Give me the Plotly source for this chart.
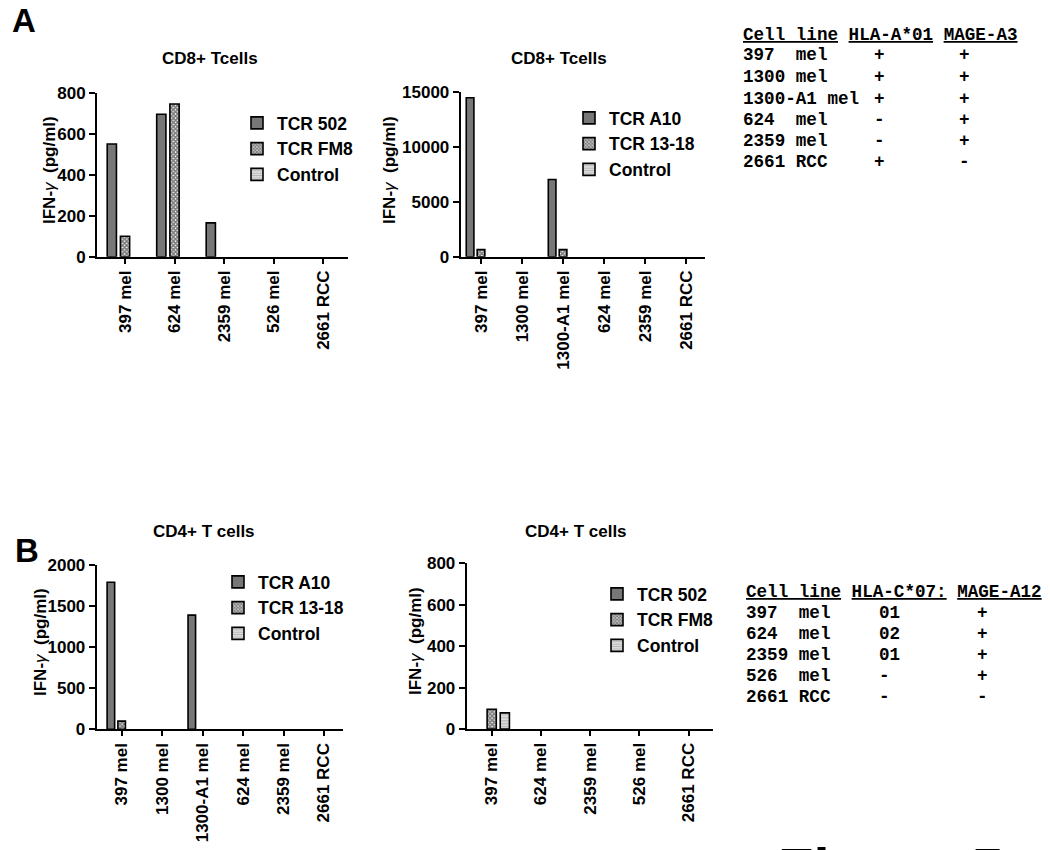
import plotly.graph_objects as go

W, H = 1050, 850

# ---------------- data ----------------
a1_cats = ["397 mel", "624 mel", "2359 mel", "526 mel", "2661 RCC"]
a1_names = ["TCR 502", "TCR FM8", "Control"]
a1_tcr502 = [550, 695, 165, 0, 0]
a1_fm8 = [100, 745, 0, 0, 0]
a1_ctrl = [0, 0, 0, 0, 0]

a2_cats = ["397 mel", "1300 mel", "1300-A1 mel", "624 mel", "2359 mel", "2661 RCC"]
a2_names = ["TCR A10", "TCR 13-18", "Control"]
a2_a10 = [14500, 0, 7050, 0, 0, 0]
a2_1318 = [650, 0, 650, 0, 0, 0]
a2_ctrl = [0, 0, 0, 0, 0, 0]

b1_cats = ["397 mel", "1300 mel", "1300-A1 mel", "624 mel", "2359 mel", "2661 RCC"]
b1_names = ["TCR A10", "TCR 13-18", "Control"]
b1_a10 = [1790, 0, 1390, 0, 0, 0]
b1_1318 = [100, 0, 0, 0, 0, 0]
b1_ctrl = [0, 0, 0, 0, 0, 0]

b2_cats = ["397 mel", "624 mel", "2359 mel", "526 mel", "2661 RCC"]
b2_names = ["TCR 502", "TCR FM8", "Control"]
b2_tcr502 = [0, 0, 0, 0, 0]
b2_fm8 = [95, 0, 0, 0, 0]
b2_ctrl = [78, 0, 0, 0, 0]

tableA_header = ["Cell line", "HLA-A*01", "MAGE-A3"]
tableA_lines = ["397  mel", "1300 mel", "1300-A1 mel", "624  mel", "2359 mel", "2661 RCC"]
tableA_hla = ["+", "+", "+", "-", "-", "+"]
tableA_mage = ["+", "+", "+", "+", "+", "-"]

tableB_header = ["Cell line", "HLA-C*07:", "MAGE-A12"]
tableB_lines = ["397  mel", "624  mel", "2359 mel", "526  mel", "2661 RCC"]
tableB_hla = ["01", "02", "01", "-", "-"]
tableB_mage = ["+", "+", "+", "+", "-"]

a1_yticks = [0, 200, 400, 600, 800]
a2_yticks = [0, 5000, 10000, 15000]
b1_yticks = [0, 500, 1000, 1500, 2000]
b2_yticks = [0, 200, 400, 600, 800]

# ---------------- helpers ----------------
def PX(x):
    return x / W

def PY(y):
    return 1 - y / H

SANS = "Liberation Sans, Arial, sans-serif"
MONO = "Liberation Mono, Courier New, monospace"

styles = [
    dict(color="#777777", pattern=dict(shape="")),
    dict(color="#444444", pattern=dict(shape="x", fgcolor="#000000", bgcolor="#ffffff", size=3, solidity=0.8)),
    dict(color="#c8c8c8", pattern=dict(shape="-", fgcolor="#888888", bgcolor="#e2e2e2", size=3, solidity=0.45)),
]

fig = go.Figure()

panels = [
    dict(cats=a1_cats, names=a1_names, series=[a1_tcr502, a1_fm8, a1_ctrl], xa="x", ya="y", legend="legend"),
    dict(cats=a2_cats, names=a2_names, series=[a2_a10, a2_1318, a2_ctrl], xa="x2", ya="y2", legend="legend2"),
    dict(cats=b1_cats, names=b1_names, series=[b1_a10, b1_1318, b1_ctrl], xa="x3", ya="y3", legend="legend3"),
    dict(cats=b2_cats, names=b2_names, series=[b2_tcr502, b2_fm8, b2_ctrl], xa="x4", ya="y4", legend="legend4"),
]

for p in panels:
    for name, vals, st in zip(p["names"], p["series"], styles):
        fig.add_trace(go.Bar(
            x=p["cats"],
            # zero-height bars are not drawn in the original (no outline on the axis)
            y=[v if v else None for v in vals],
            name=name,
            xaxis=p["xa"], yaxis=p["ya"], legend=p["legend"],
            marker=dict(color=st["color"], pattern=st["pattern"],
                        line=dict(color="black", width=1.6)),
            hoverinfo="x+y+name",
        ))

tickfont = dict(family=SANS, size=17, color="black", weight="bold")

def xaxis(dom, rng, cats, anchor):
    return dict(domain=[PX(dom[0]), PX(dom[1])], range=rng, type="category",
                categoryorder="array", categoryarray=cats, anchor=anchor,
                showline=True, linewidth=2, linecolor="black", ticks="outside",
                ticklen=5, tickwidth=2, tickcolor="black", tickangle=-90,
                tickfont=tickfont, showgrid=False, zeroline=False, fixedrange=True)

def yaxis(dom, rng, tv, anchor):
    return dict(domain=[PY(dom[1]), PY(dom[0])], range=rng, anchor=anchor,
                tickvals=tv, tickformat="d", showline=True, linewidth=2, linecolor="black",
                ticks="outside", ticklen=6, tickwidth=2, tickcolor="black",
                tickfont=tickfont, showgrid=False, zeroline=False, fixedrange=True)

fig.update_layout(
    xaxis=xaxis((97, 348), [-0.566, 4.505], a1_cats, "y"),
    yaxis=yaxis((92.7, 256.7), [0, 800], a1_yticks, "x"),
    xaxis2=xaxis((460.7, 705), [-0.495, 5.46], a2_cats, "y2"),
    yaxis2=yaxis((92.3, 256.7), [0, 15000], a2_yticks, "x2"),
    xaxis3=xaxis((96.7, 343), [-0.617, 5.47], b1_cats, "y3"),
    yaxis3=yaxis((565, 729.3), [0, 2000], b1_yticks, "x3"),
    xaxis4=xaxis((466.7, 712.7), [-0.508, 4.49], b2_cats, "y4"),
    yaxis4=yaxis((563.3, 729), [0, 800], b2_yticks, "x4"),
)

legfont = dict(family=SANS, size=17.5, color="black", weight="bold")

def legend(x, y):
    return dict(x=PX(x), y=PY(y), xanchor="left", yanchor="top", bgcolor="rgba(0,0,0,0)",
                font=legfont, tracegroupgap=0, itemclick=False, itemdoubleclick=False)

fig.update_layout(
    legend=legend(237, 105),
    legend2=legend(569, 100),
    legend3=legend(218, 564),
    legend4=legend(597, 576),
)

ann = []
def text(x, y, s, size=17, xanchor="center", yanchor="middle", angle=0, family=SANS, weight="bold"):
    ann.append(dict(x=PX(x), y=PY(y), xref="paper", yref="paper", text=s, showarrow=False,
                    xanchor=xanchor, yanchor=yanchor, textangle=angle,
                    font=dict(family=family, size=size, color="black", weight=weight)))

# titles
text(210, 58, "CD8+ Tcells")
text(559, 58, "CD8+ Tcells")
text(204, 531, "CD4+ T cells")
text(576, 531, "CD4+ T cells")

# y axis titles
ytitle = "IFN-<span style='font-weight:normal'><i>γ</i></span>  (pg/ml)"
text(50, 170, ytitle, angle=-90)
text(390, 170, ytitle, angle=-90)
text(40, 642, ytitle, angle=-90)
text(415, 641, ytitle, angle=-90)

# panel letters
text(24, 21, "A", size=33)
text(27, 550, "B", size=33)

# tables
def table(x0, yh, rows_y, header, lines, hla, mage, xh, xm):
    hdr = " ".join("<u>%s</u>" % h for h in header)
    text(x0, yh, hdr, size=17.6, xanchor="left", family=MONO)
    for y, l, a, m in zip(rows_y, lines, hla, mage):
        text(x0, y, l.replace(" ", "\u00a0"), size=17.6, xanchor="left", family=MONO)
        text(xh, y, a, size=17.6, xanchor="left", family=MONO)
        text(xm, y, m, size=17.6, xanchor="left", family=MONO)

table(740.7, 35, [55.3, 77, 98.7, 120, 141.3, 162], tableA_header, tableA_lines,
      tableA_hla, tableA_mage, 872.4, 957)
table(744, 591.7, [612.5, 633.8, 654.7, 675.5, 697], tableB_header, tableB_lines,
      tableB_hla, tableB_mage, 876.5, 975)

# partially visible figure caption at bottom
text(776, 834, "Figure 5", size=58, xanchor="left", yanchor="top")

fig.update_layout(
    annotations=ann,
    width=W, height=H,
    margin=dict(l=0, r=0, t=0, b=0, autoexpand=False),
    paper_bgcolor="white", plot_bgcolor="white",
    barmode="group", bargap=0.2, bargroupgap=0.3,
    showlegend=True,
)

fig.write_html("out.html", config={"displayModeBar": False})

# remove the default page margin so the figure sits at the window's top-left corner
with open("out.html", encoding="utf-8") as f:
    html = f.read()
html = html.replace("<head>", "<head><style>html,body{margin:0;padding:0;overflow:hidden}</style>", 1)
with open("out.html", "w", encoding="utf-8") as f:
    f.write(html)
